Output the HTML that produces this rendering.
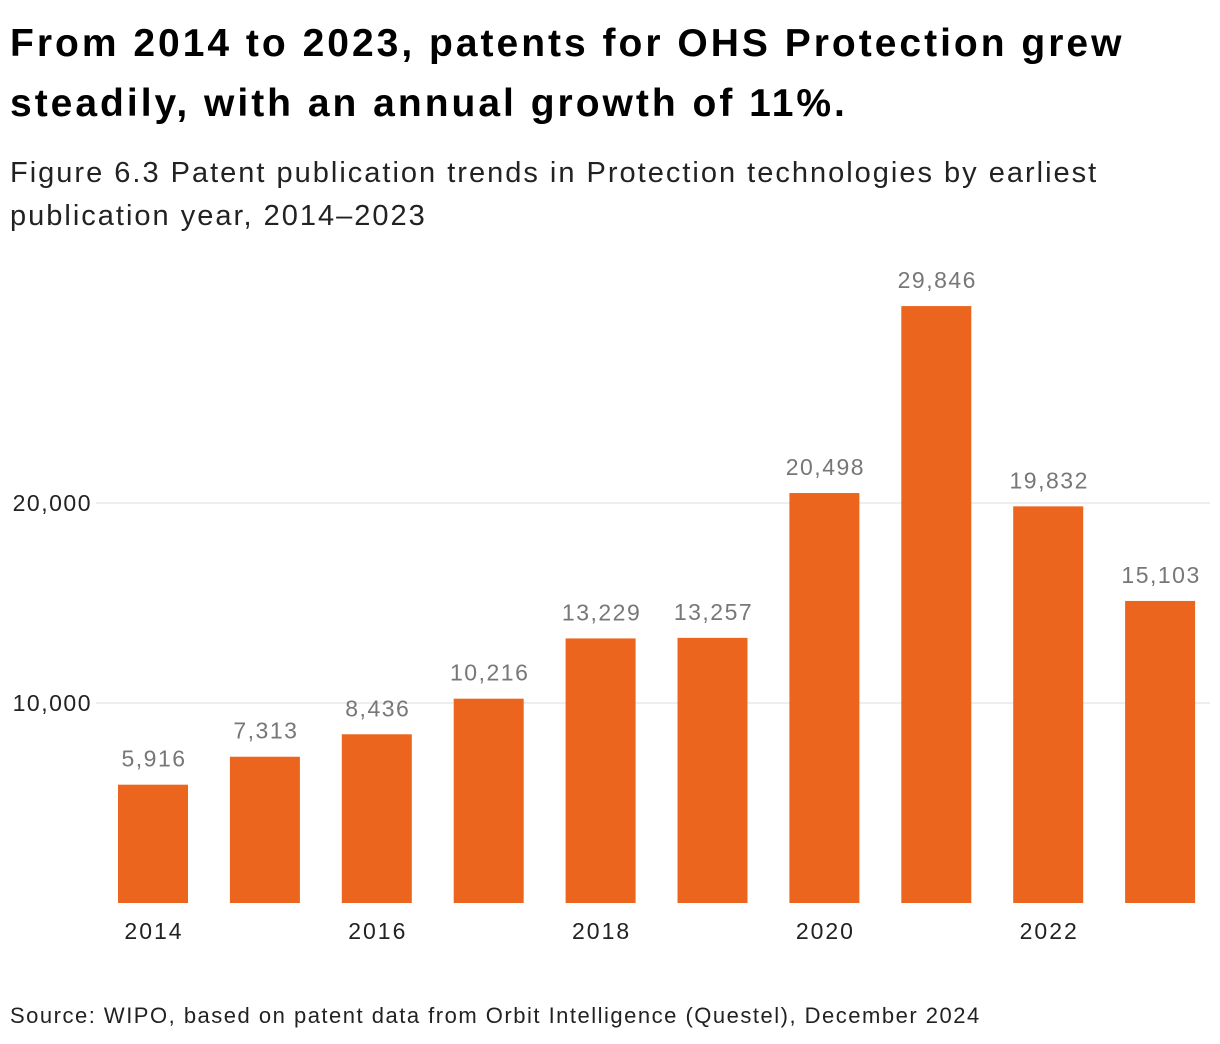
<!DOCTYPE html>
<html><head><meta charset="utf-8"><style>
body{margin:0;width:1220px;height:1044px;background:#fff;font-family:"Liberation Sans",sans-serif;overflow:hidden}
.t{position:absolute;left:10px;margin:0}
svg text{font-family:"Liberation Sans",sans-serif}
</style></head><body>
<h1 class="t" style="top:14px;font-size:39px;line-height:60px;font-weight:bold;color:#000;width:1165px;letter-spacing:3px">From 2014 to 2023, patents for OHS Protection grew steadily, with an annual growth of 11%.</h1>
<p class="t" style="top:152px;font-size:29px;line-height:43px;color:#222;width:1125px;letter-spacing:2px">Figure 6.3 Patent publication trends in Protection technologies by earliest publication year, 2014–2023</p>
<svg id="c" width="1220" height="1044" style="position:absolute;left:0;top:0"></svg>
<p class="t" style="top:1003px;font-size:22px;color:#222;letter-spacing:1.5px">Source: WIPO, based on patent data from Orbit Intelligence (Questel), December 2024</p>
<script>
const years=[2014,2015,2016,2017,2018,2019,2020,2021,2022,2023];
const values=[5916,7313,8436,10216,13229,13257,20498,29846,19832,15103];
const valueLabels=["5,916","7,313","8,436","10,216","13,229","13,257","20,498","29,846","19,832","15,103"];
const yTicks=[10000,20000];
const yTickLabels=["10,000","20,000"];
const svg=document.getElementById('c');const NS='http://www.w3.org/2000/svg';
const y=v=>903-v*0.02; const x=i=>153+i*111.9; const bw=70;
function mk(t,a){const e=document.createElementNS(NS,t);for(const k in a)e.setAttribute(k,a[k]);svg.appendChild(e);return e;}
yTicks.forEach((t,i)=>{
 const l=mk('line',{x1:96,x2:1210,y1:y(t),y2:y(t),stroke:'#ddd','stroke-width':1});
 
 
 const tx=mk('text',{x:92,y:y(t)+8,'text-anchor':'end','font-size':23,fill:'#222','letter-spacing':'1.5'});tx.textContent=yTickLabels[i];
 
 
});
values.forEach((v,i)=>{
 const r=mk('rect',{x:x(i)-bw/2,y:y(v),width:bw,height:903-y(v),fill:'#eb651f'});
 
 
 const t=mk('text',{x:x(i)+1,y:y(v)-18,'text-anchor':'middle','font-size':23,fill:'#777','letter-spacing':'1.5'});t.textContent=valueLabels[i];
 
 
 if(i%2==0){const a=mk('text',{x:x(i)+1,y:939,'text-anchor':'middle','font-size':23,fill:'#222','letter-spacing':'2'});a.textContent=years[i];
 
 }
});
</script>
</body></html>
